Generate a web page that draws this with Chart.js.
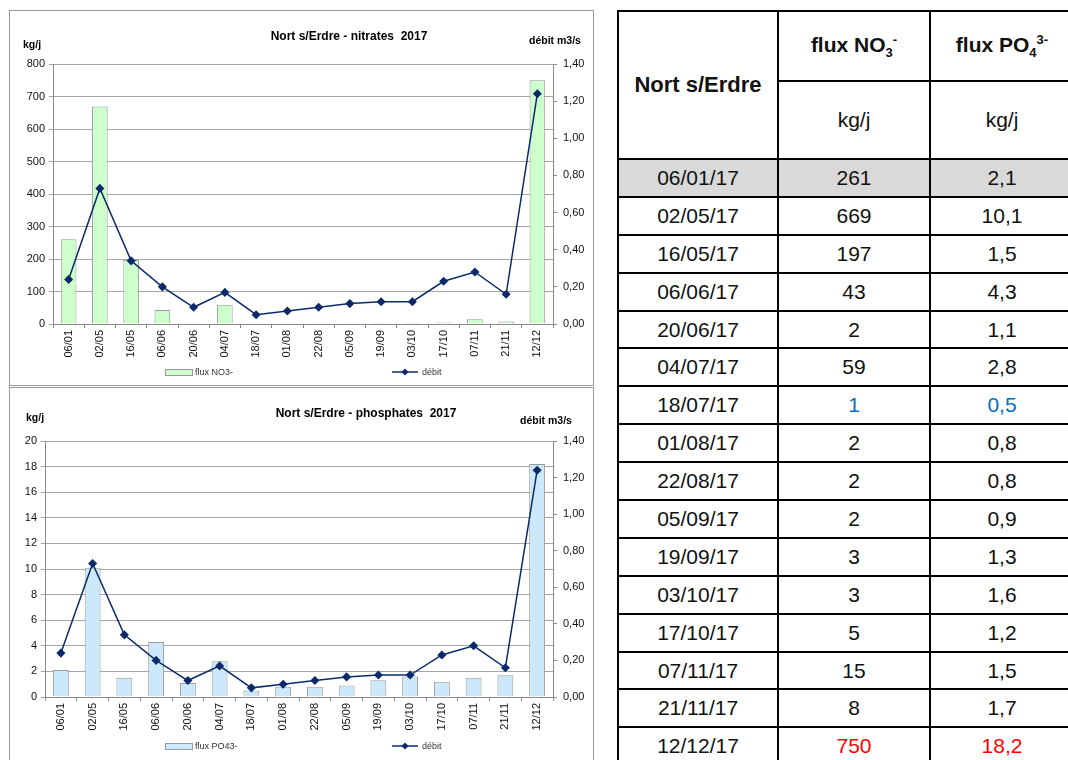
<!DOCTYPE html>
<html>
<head>
<meta charset="utf-8">
<script src="https://cdn.jsdelivr.net/npm/chart.js@4.4.0/dist/chart.umd.min.js"></script>
<style>
  body { margin: 0; width: 1068px; height: 760px; overflow: hidden; background: #fff;
         font-family: 'Liberation Sans', Arial, sans-serif; position: relative; }
  .frame { position: absolute; border: 1px solid #9a9a9a; background: #fff; }
  #frame1 { left: 9px; top: 10px; width: 583px; height: 374px; }
  #frame2 { left: 9px; top: 387px; width: 583px; height: 380px; }
  .frame canvas { position: absolute; left: 0; top: 0; }
  #tbl { position: absolute; left: 617px; top: 10px; width: 456px; border-collapse: collapse; table-layout: fixed; }
  #tbl td { border: 2px solid #000; text-align: center; padding: 0; font-size: 21px; color: #111; }
  #tbl .hd { font-weight: bold; }
  #tbl sub, #tbl sup { font-size: 13px; }
</style>
</head>
<body>
<div class="frame" id="frame1"><canvas id="nitrates" width="583" height="374"></canvas></div>
<div class="frame" id="frame2"><canvas id="phosphates" width="583" height="373"></canvas></div>
<table id="tbl">
  <colgroup><col style="width:160px"><col style="width:152px"><col style="width:144px"></colgroup>
  <tbody id="tbody">
    <tr style="height:70px">
      <td rowspan="2" class="hd" style="font-size:22px">Nort s/Erdre</td>
      <td class="hd">flux NO<sub>3</sub><sup>-</sup></td>
      <td class="hd">flux PO<sub>4</sub><sup>3-</sup></td>
    </tr>
    <tr style="height:78px"><td>kg/j</td><td>kg/j</td></tr>
  </tbody>
</table>
<script>
// Data
const dates = ['06/01/17', '02/05/17', '16/05/17', '06/06/17', '20/06/17', '04/07/17', '18/07/17', '01/08/17',
  '22/08/17', '05/09/17', '19/09/17', '03/10/17', '17/10/17', '07/11/17', '21/11/17', '12/12/17'];
const categories = ['06/01', '02/05', '16/05', '06/06', '20/06', '04/07', '18/07', '01/08',
  '22/08', '05/09', '19/09', '03/10', '17/10', '07/11', '21/11', '12/12'];
const fluxNO3 = [261, 669, 197, 43, 2, 59, 1, 2, 2, 2, 3, 3, 5, 15, 8, 750];
const fluxPO4 = [2.1, 10.1, 1.5, 4.3, 1.1, 2.8, 0.5, 0.8, 0.8, 0.9, 1.3, 1.6, 1.2, 1.5, 1.7, 18.2];
const debit = [0.24, 0.73, 0.34, 0.20, 0.09, 0.17, 0.05, 0.07, 0.09, 0.11, 0.12, 0.12, 0.23, 0.28, 0.16, 1.24];
const debitTicks = [0, 0.2, 0.4, 0.6, 0.8, 1.0, 1.2, 1.4];

const FONT = "'Liberation Sans', Arial, sans-serif";
const NAVY = '#0c2a6a';

// Table
const tbody = document.getElementById('tbody');
dates.forEach((d, i) => {
  const tr = document.createElement('tr');
  tr.style.height = '37.9px';
  if (i === 0) tr.style.background = '#d9d9d9';
  let color = '#111';
  if (d === '18/07/17') color = '#0070c0';
  if (d === '12/12/17') color = '#ff0000';
  tr.innerHTML = '<td>' + d + '</td>' +
    '<td style="color:' + color + '">' + fluxNO3[i] + '</td>' +
    '<td style="color:' + color + '">' + fluxPO4[i].toFixed(1).replace('.', ',') + '</td>';
  tbody.appendChild(tr);
});

// Draws titles, axis units and the spread-out legend
function labelsPlugin(cfg) {
  return {
    id: 'labels',
    afterDraw(chart) {
      const c = chart.ctx;
      c.save();
      c.fillStyle = '#000';
      c.textBaseline = 'middle';
      c.font = 'bold 12px ' + FONT;
      c.textAlign = 'center';
      c.fillText(cfg.title, cfg.titleX, 26);
      c.font = 'bold 10.5px ' + FONT;
      c.textAlign = 'left';
      c.fillText('kg/j', cfg.unitX, cfg.unitY);
      c.fillText('débit m3/s', cfg.debitX, cfg.debitY);

      // legend
      const ly = cfg.legendY;
      c.fillStyle = cfg.barColor;
      c.fillRect(155, ly - 3, 27, 6);
      c.strokeStyle = '#9a9a9a';
      c.lineWidth = 1;
      c.strokeRect(155.5, ly - 2.5, 27, 6);
      c.font = '9px ' + FONT;
      c.fillStyle = '#333';
      c.fillText(cfg.barLabel, 185, ly + 1);
      c.strokeStyle = NAVY;
      c.lineWidth = 1.5;
      c.beginPath();
      c.moveTo(382, ly);
      c.lineTo(408, ly);
      c.stroke();
      c.fillStyle = NAVY;
      c.beginPath();
      c.moveTo(395, ly - 3.5); c.lineTo(398.5, ly); c.lineTo(395, ly + 3.5); c.lineTo(391.5, ly);
      c.closePath();
      c.fill();
      c.fillStyle = '#333';
      c.fillText('débit', 412, ly + 1);
      c.restore();
    }
  };
}

function makeChart(id, bars, barColor, barLabel, yMax, yStep, leftWidth, xHeight, bottomPad, cfg) {
  const ctx = document.getElementById(id).getContext('2d');
  return new Chart(ctx, {
    data: {
      labels: categories,
      datasets: [
        {
          type: 'line',
          label: 'débit',
          data: debit,
          yAxisID: 'y2',
          borderColor: NAVY,
          backgroundColor: NAVY,
          borderWidth: 1.5,
          pointStyle: 'rectRot',
          pointRadius: 3.5,
          tension: 0,
          order: 0,
        },
        {
          type: 'bar',
          label: barLabel,
          data: bars,
          yAxisID: 'y',
          backgroundColor: barColor,
          borderColor: '#9a9a9a',
          borderWidth: 1,
          barPercentage: 0.5,
          categoryPercentage: 1,
          order: 1,
        },
      ],
    },
    options: {
      responsive: false,
      animation: false,
      devicePixelRatio: 1,
      layout: { padding: { top: 53, bottom: bottomPad, left: 0, right: 0 } },
      plugins: { legend: { display: false }, title: { display: false }, tooltip: { enabled: false } },
      scales: {
        x: {
          offset: true,
          grid: { drawOnChartArea: false, drawTicks: true, tickLength: 4, color: '#8a8a8a' },
          border: { color: '#8a8a8a' },
          ticks: { color: '#111', font: { size: 11, family: FONT }, minRotation: 90, maxRotation: 90, autoSkip: false, padding: 2 },
          afterFit(scale) { scale.height = xHeight; },
        },
        y: {
          position: 'left',
          min: 0,
          max: yMax,
          grid: { color: '#a6a6a6', lineWidth: 1, tickLength: 4 },
          border: { color: '#8a8a8a' },
          ticks: { stepSize: yStep, color: '#111', font: { size: 11, family: FONT }, padding: 4 },
          afterFit(scale) { scale.width = leftWidth; },
        },
        y2: {
          position: 'right',
          min: 0,
          max: 1.4,
          grid: { drawOnChartArea: false, tickLength: 4, color: '#8a8a8a' },
          border: { color: '#8a8a8a' },
          afterBuildTicks(scale) { scale.ticks = debitTicks.map(v => ({ value: v })); },
          ticks: {
            color: '#111',
            font: { size: 11, family: FONT },
            padding: 6,
            callback: (v) => Number(v).toFixed(2).replace('.', ','),
          },
          afterFit(scale) { scale.width = 40; },
        },
      },
    },
    plugins: [labelsPlugin(Object.assign({ barColor: barColor, barLabel: barLabel }, cfg))],
  });
}

makeChart('nitrates', fluxNO3, '#ccffcc', 'flux NO3-', 800, 100, 43, 41, 20, {
  title: 'Nort s/Erdre - nitrates  2017', titleX: 339,
  unitX: 13, unitY: 34, debitX: 519, debitY: 30, legendY: 361,
});
makeChart('phosphates', fluxPO4, '#cce9fb', 'flux PO43-', 20, 2, 35, 41, 23, {
  title: 'Nort s/Erdre - phosphates  2017', titleX: 356,
  unitX: 16, unitY: 30, debitX: 510, debitY: 33, legendY: 358,
});
</script>
</body>
</html>
